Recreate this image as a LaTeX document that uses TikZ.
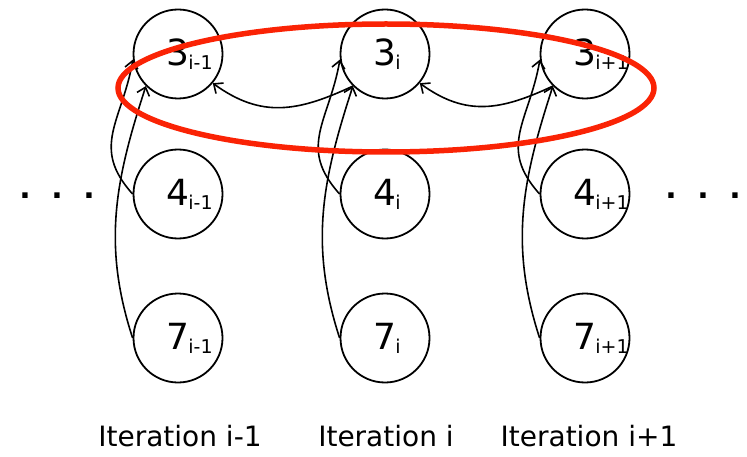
\documentclass[tikz,border=0pt]{standalone}
\usepackage{fontspec}
\setmainfont{DejaVu Sans}
\usetikzlibrary{arrows.meta}
\definecolor{ellred}{RGB}{250,35,5}
\newcommand{\nd}[2]{#1\rlap{\kern-1pt\raisebox{-4pt}{\fontsize{19}{19}\selectfont #2}}}
\begin{document}
\begin{tikzpicture}[x=1pt,y=1pt,
  state/.style={circle,draw,line width=1.8pt,minimum size=89pt,inner sep=0pt,font=\fontsize{36}{36}\selectfont},
  link/.style={line width=1.6pt,-{Straight Barb[length=7.5pt,width=13pt,line width=1.6pt]}},
  lbl/.style={font=\fontsize{28}{28}\selectfont,anchor=base,inner sep=0pt},
  dotrow/.style={font=\bfseries\fontsize{30}{30}\selectfont,anchor=base,inner sep=0pt}]
\useasboundingbox (0,0) rectangle (747,456);
\node[state] (a3) at (178,402) {\nd{3}{i-1}};
\node[state] (a4) at (178,262) {\nd{4}{i-1}};
\node[state] (a7) at (178,118) {\nd{7}{i-1}};
\node[state] (b3) at (385,402) {\nd{3}{i}};
\node[state] (b4) at (385,262) {\nd{4}{i}};
\node[state] (b7) at (385,118) {\nd{7}{i}};
\node[state] (c3) at (585,402) {\nd{3}{i+1}};
\node[state] (c4) at (585,262) {\nd{4}{i+1}};
\node[state] (c7) at (585,118) {\nd{7}{i+1}};
\foreach \c in {a,b,c} {
  \draw[link] (\c4.west) to[out=132,in=-100,looseness=1.2] (\c3.187);
  \draw[link] (\c7.west) to[out=108,in=-108] (\c3.225);
}
\draw[link] (b3.225) to[out=205,in=-36,looseness=1.1] (a3.-40);
\draw[link] (c3.225) to[out=205,in=-36,looseness=1.1] (b3.-40);
\node[dotrow] (dl) at (57,258) {.\hspace{20.6pt}.\hspace{20.6pt}.};
\node[dotrow] (dr) at (703,258) {.\hspace{20.6pt}.\hspace{20.6pt}.};
\node[lbl] (l1) at (180,10) {Iteration i-1};
\node[lbl] (l2) at (386,10) {Iteration i};
\node[lbl] (l3) at (589,10) {Iteration i+1};
\draw[ellred,line width=5.5pt] (386,368) ellipse [x radius=268, y radius=64];
\end{tikzpicture}
\end{document}
